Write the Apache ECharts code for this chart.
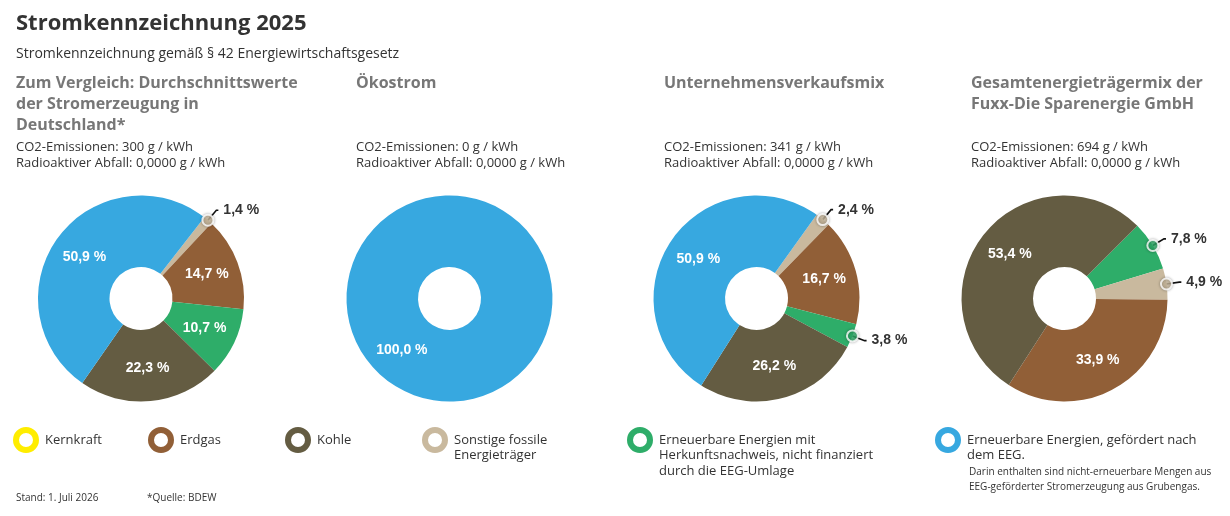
<!DOCTYPE html>
<html><head><meta charset="utf-8">
<script src="https://cdn.jsdelivr.net/npm/echarts@6/dist/echarts.min.js"></script>
<style>html,body{margin:0;padding:0;background:#fff}#c{width:1230px;height:516px}</style>
</head><body><div id="c"></div>
<script>
// ---- categories & colours ----
const catKern = 'Kernkraft';
const catGas = 'Erdgas';
const catKohle = 'Kohle';
const catSonst = 'Sonstige fossile Energieträger';
const catHKN = 'Erneuerbare Energien mit Herkunftsnachweis, nicht finanziert durch die EEG-Umlage';
const catEEG = 'Erneuerbare Energien, gefördert nach dem EEG.';
const categories = [catKern, catGas, catKohle, catSonst, catHKN, catEEG];
const legendLabels = ['Kernkraft', 'Erdgas', 'Kohle', 'Sonstige fossile\nEnergieträger',
  'Erneuerbare Energien mit\nHerkunftsnachweis, nicht finanziert\ndurch die EEG-Umlage',
  'Erneuerbare Energien, gefördert nach\ndem EEG.'];
const catColors = ['#FFED00', '#915F37', '#645C42', '#C9B99E', '#2EAD69', '#37A8E0'];

// ---- chart data (slice order as drawn, clockwise) ----
const pie1Names = [catKern, catSonst, catGas, catHKN, catKohle, catEEG];
const pie1Values = [0, 1.4, 14.7, 10.7, 22.3, 50.9];
const pie2Names = [catEEG];
const pie2Values = [100.0];
const pie3Names = [catKern, catSonst, catGas, catHKN, catKohle, catEEG];
const pie3Values = [0, 2.4, 16.7, 3.8, 26.2, 50.9];
const pie4Names = [catHKN, catSonst, catGas, catKohle];
const pie4Values = [7.8, 4.9, 33.9, 53.4];

const headings = ['Zum Vergleich: Durchschnittswerte\nder Stromerzeugung in\nDeutschland*', 'Ökostrom',
  'Unternehmensverkaufsmix', 'Gesamtenergieträgermix der\nFuxx-Die Sparenergie GmbH'];
const co2Values = ['300', '0', '341', '694'];
const wasteValues = ['0,0000', '0,0000', '0,0000', '0,0000'];

// ---- layout ----
const colLeft = [16, 356, 664, 971];
const pieCenters = [[141, 298.5], [449.5, 298.5], [756.5, 298.5], [1064.5, 298.5]];
const pieStart = [52, 47.3, 54.3, 45];
const R0 = 31.5, R1 = 103;
const smallLimit = 8;
const legendTextLeft = [45, 180, 317, 454, 659, 967];

const fmt = v => v.toFixed(1).replace('.', ',') + ' %';
const colorOf = n => catColors[categories.indexOf(n)];
const TXT = "'Open Sans', 'DejaVu Sans', sans-serif";
const LBL = "'Liberation Sans', Arial, sans-serif";

const pies = [[pie1Names, pie1Values], [pie2Names, pie2Values], [pie3Names, pie3Values], [pie4Names, pie4Values]];

const series = [];
const polar = [], angleAxis = [], radiusAxis = [];
pies.forEach(([names, vals], pi) => {
  series.push({
    type: 'pie', center: pieCenters[pi], radius: [R0, R1], startAngle: pieStart[pi], clockwise: true,
    avoidLabelOverlap: false, animation: false, emphasis: { disabled: true }, silent: true,
    itemStyle: { borderWidth: 0 },
    data: names.map((n, i) => {
      const v = vals[i];
      const small = v < smallLimit;
      return {
        name: n, value: v,
        itemStyle: { color: colorOf(n) },
        label: v === 0 ? { show: false } : (small ? {
          show: true, position: 'outside', formatter: () => fmt(v), color: '#333', fontSize: 14,
          fontWeight: 'bold', fontFamily: LBL, distanceToLabelLine: 5
        } : {
          show: true, position: 'inside', formatter: () => fmt(v), color: '#fff', fontSize: 14,
          fontWeight: 'bold', fontFamily: LBL
        }),
        labelLine: { show: small && v > 0, length: 13, length2: 2, smooth: false, lineStyle: { color: '#111', width: 1.6 } }
      };
    })
  });
  // dots at outer edge of small slices, via polar coordinates
  const pts = [];
  let cum = 0;
  vals.forEach((v, i) => {
    if (v > 0 && v < smallLimit) pts.push({ value: [1, cum + v / 2], itemStyle: { color: colorOf(names[i]) } });
    cum += v;
  });
  if (pts.length) {
    const idx = polar.length;
    polar.push({ center: pieCenters[pi], radius: R1 });
    angleAxis.push({ polarIndex: idx, type: 'value', min: 0, max: 100, startAngle: pieStart[pi], clockwise: true, show: false });
    radiusAxis.push({ polarIndex: idx, type: 'value', min: 0, max: 1, show: false });
    series.push({
      type: 'scatter', coordinateSystem: 'polar', polarIndex: idx, z: 10, silent: true, animation: false,
      symbol: 'circle', symbolSize: 11,
      itemStyle: { borderColor: '#fff', borderWidth: 2, shadowBlur: 3, shadowColor: 'rgba(0,0,0,0.35)' },
      data: pts
    });
  }
});

// ---- titles / texts ----
const titles = [
  { text: 'Stromkennzeichnung 2025', left: 16, top: 13, padding: 0,
    textStyle: { fontFamily: TXT, fontSize: 22, fontWeight: 'bold', color: '#333', lineHeight: 22 } },
  { text: 'Stromkennzeichnung gemäß § 42 Energiewirtschaftsgesetz', left: 16, top: 45, padding: 0,
    textStyle: { fontFamily: TXT, fontSize: 14, fontWeight: 'normal', color: '#333', lineHeight: 18 } }
];
headings.forEach((h, i) => {
  titles.push({ text: h, left: colLeft[i], top: 72.5, padding: 0,
    textStyle: { fontFamily: TXT, fontSize: 16, fontWeight: 'bold', color: '#777', lineHeight: 21 } });
  titles.push({ text: 'CO2-Emissionen: ' + co2Values[i] + ' g / kWh\nRadioaktiver Abfall: ' + wasteValues[i] + ' g / kWh',
    left: colLeft[i], top: 139, padding: 0,
    textStyle: { fontFamily: TXT, fontSize: 13, fontWeight: 'normal', color: '#333', lineHeight: 16 } });
});
titles.push({ text: 'Darin enthalten sind nicht-erneuerbare Mengen aus\nEEG-geförderter Stromerzeugung aus Grubengas.',
  left: 969, top: 465, padding: 0,
  textStyle: { fontFamily: TXT, fontSize: 10, fontWeight: 'normal', color: '#333', lineHeight: 15 } });
titles.push({ text: 'Stand: 1. Juli 2026', left: 16, top: 492, padding: 0,
  textStyle: { fontFamily: TXT, fontSize: 10, fontWeight: 'normal', color: '#333', lineHeight: 12 } });
titles.push({ text: '*Quelle: BDEW', left: 147, top: 492, padding: 0,
  textStyle: { fontFamily: TXT, fontSize: 10, fontWeight: 'normal', color: '#333', lineHeight: 12 } });

// ---- legends (first line in legend, continuation lines as text below) ----
const legends = categories.map((c, i) => {
  const lines = legendLabels[i].split('\n');
  if (lines.length > 1) {
    titles.push({ text: lines.slice(1).join('\n'), left: legendTextLeft[i], top: 447, padding: 0,
      textStyle: { fontFamily: TXT, fontSize: 13, fontWeight: 'normal', color: '#333', lineHeight: 16 } });
  }
  return {
    left: legendTextLeft[i] - 32, top: 427, padding: 0, orient: 'horizontal',
    data: [{ name: c, itemStyle: { color: '#fff', borderColor: catColors[i], borderWidth: 6 } }],
    selectedMode: false, icon: 'circle', itemWidth: 20, itemHeight: 20,
    formatter: () => lines[0],
    textStyle: { fontFamily: TXT, fontSize: 13, color: '#333', lineHeight: 16, padding: [0, 0, 0, 4] }
  };
});

const chart = echarts.init(document.getElementById('c'), null, { renderer: 'canvas' });
chart.setOption({
  backgroundColor: '#fff',
  animation: false,
  title: titles,
  legend: legends,
  polar, angleAxis, radiusAxis,
  series
});
</script></body></html>
